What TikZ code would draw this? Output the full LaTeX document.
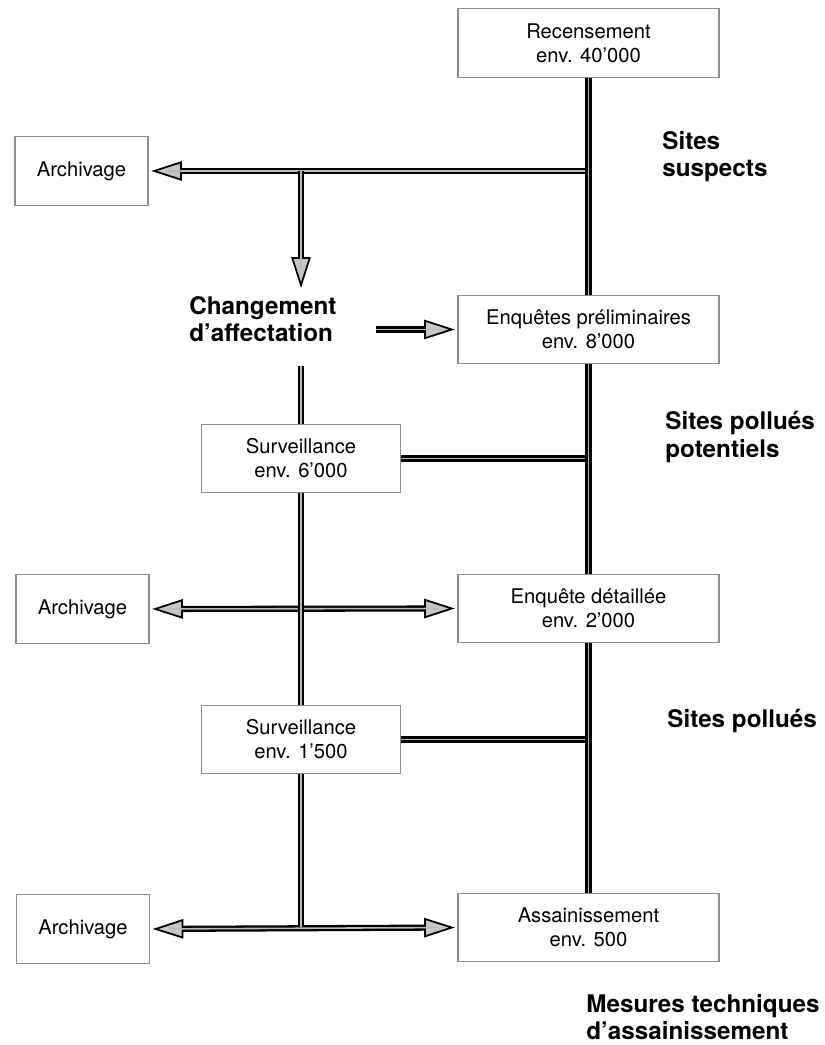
\documentclass[tikz,border=0pt]{standalone}
\usepackage{fontspec}
\setmainfont{TeX Gyre Heros}
\usetikzlibrary{arrows.meta,positioning}
\tikzset{
  box/.style={draw=black!45, line width=0.6pt, minimum width=5.22cm, minimum height=1.37cm,
    align=center, inner sep=0pt, font=\fontsize{11.5}{13.6}\selectfont},
  archbox/.style={box, minimum width=2.66cm},
  survbox/.style={box, minimum width=3.97cm},
  zone/.style={anchor=west, align=left, inner sep=0pt, font=\fontsize{13.8}{15.5}\selectfont\bfseries},
  pipe/.style={line width=3.5pt, postaction={draw=gray!55, line width=0.9pt, arrows=-, #1}},
  pipe/.default={},
  Flow/.tip={Triangle[length=17.5pt, width=11pt, fill=gray!45, line width'=1pt]}
}
\begin{document}
\begin{tikzpicture}
\useasboundingbox (0,0) rectangle (16.48,20.9);
%%% main column
\node[box] (rec) at (11.77,20.04) {Recensement\\env. 40'000};
\node[box] (prel) at (11.77,14.31) {Enquêtes préliminaires\\env. 8'000};
\node[box] (detail) at (11.77,8.73) {Enquête détaillée\\env. 2'000};
\node[box] (assain) at (11.77,2.35) {Assainissement\\env. 500};
%%% left column
\node[archbox] (arch1) at (1.63,17.48) {Archivage};
\node[archbox] (arch2) at (1.65,8.72) {Archivage};
\node[archbox] (arch3) at (1.66,2.32) {Archivage};
\node[survbox] (surv1) at (6.02,11.73) {Surveillance\\env. 6'000};
\node[survbox] (surv2) at (6.02,6.11) {Surveillance\\env. 1'500};
\node[zone] (chg) at (3.78,14.52) {Changement\\d'affectation};
%%% zones
\node[zone] (suspect) at (13.24,17.76) {Sites\\suspects};
\node[zone] (potentiel) at (13.3,12.16) {Sites pollués\\potentiels};
\node[zone] (pollue) at (13.34,6.48) {Sites pollués};
\node[zone] (mesure) at (11.72,0.56) {Mesures techniques\\d'assainissement};
%%% junctions
\coordinate (j1) at (rec.south |- arch1.east);
\coordinate (j2) at (6.02,17.48);
\coordinate (chgtip) at (6.02,15.14);
\coordinate (chgout) at (7.52,14.31);
\coordinate (survtop) at (6.02,13.58);
\coordinate (j3) at (surv2.south |- assain.west);
%%% arrows
\draw[pipe={shorten >=11pt}, -Flow, shorten >=1.5pt] (j1) -- (arch1.east);
\draw[pipe={shorten >=11pt}, -Flow] (j2) -- (chgtip);
\draw[pipe={shorten >=11pt}, -Flow, shorten >=1.5pt] (chgout) -- (prel.west);
\draw[pipe] (surv1.east) -- (surv1.east -| prel.south);
\draw[pipe] (surv2.east) -- (surv2.east -| detail.south);
\draw[pipe={shorten >=11pt, shorten <=11pt}, Flow-Flow, shorten >=1.5pt, shorten <=1.5pt] (arch2.east) -- (detail.west);
\draw[pipe={shorten >=11pt, shorten <=11pt}, Flow-Flow, shorten >=1.5pt, shorten <=1.5pt] (arch3.east) -- (assain.west);
%%% vertical lines
\draw[pipe] (survtop) -- (surv1.north);
\draw[pipe] (surv1.south) -- (surv2.north);
\draw[pipe] (surv2.south) -- (j3);
\draw[pipe] (rec.south) -- (prel.north);
\draw[pipe] (prel.south) -- (detail.north);
\draw[pipe] (detail.south) -- (assain.north);
\end{tikzpicture}
\end{document}
